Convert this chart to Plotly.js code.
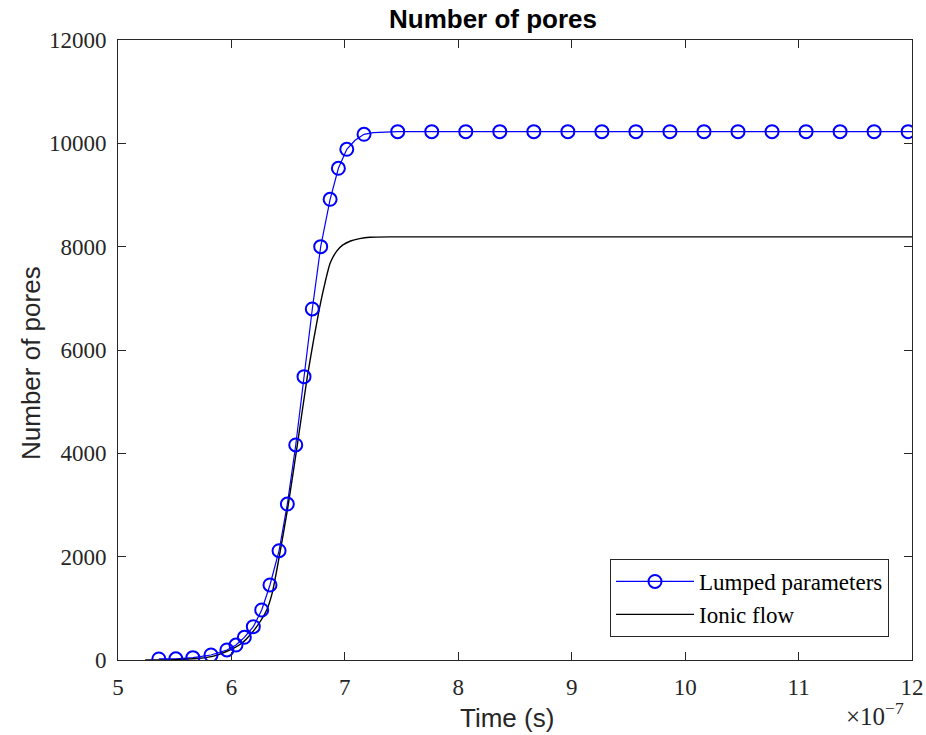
<!DOCTYPE html>
<html>
<head>
<meta charset="utf-8">
<script src="https://cdn.plot.ly/plotly-3.0.1.min.js"></script>
<style>html,body{margin:0;padding:0;background:#fff;}#chart{width:926px;height:735px;}</style>
</head>
<body>
<div id="chart"></div>
<script>
// Time in units of 1e-7 s
const lumpedMarkerTime = [5.36, 5.51, 5.66, 5.82, 5.96, 6.04, 6.114, 6.193, 6.267, 6.34, 6.42, 6.493, 6.567, 6.64, 6.713, 6.787, 6.87, 6.943, 7.017, 7.169, 7.466, 7.766, 8.066, 8.366, 8.666, 8.966, 9.266, 9.566, 9.866, 10.166, 10.466, 10.766, 11.066, 11.366, 11.666, 11.966];
const lumpedMarkerPores = [20, 22, 45, 97, 194, 290, 439, 645, 968, 1452, 2115, 3019, 4162, 5484, 6794, 8000, 8917, 9517, 9885, 10175, 10226, 10226, 10226, 10226, 10226, 10226, 10226, 10226, 10226, 10226, 10226, 10226, 10226, 10226, 10226, 10226];

const lumpedCurveTime = [5.36, 5.51, 5.66, 5.82, 5.96, 6.04, 6.114, 6.193, 6.267, 6.34, 6.42, 6.493, 6.567, 6.64, 6.713, 6.787, 6.87, 6.943, 7.017, 7.09, 7.169, 7.25, 7.35, 7.466, 7.766, 12.0];
const lumpedCurvePores = [20, 22, 45, 97, 194, 290, 439, 645, 968, 1452, 2115, 3019, 4162, 5484, 6794, 8000, 8917, 9517, 9885, 10060, 10175, 10208, 10220, 10226, 10226, 10226];

const ionicTime = [5.24, 5.5, 5.72, 5.85, 5.95, 6.017, 6.1, 6.164, 6.24, 6.311, 6.36, 6.40, 6.458, 6.502, 6.581, 6.669, 6.725, 6.775, 6.825, 6.87, 6.93, 6.98, 7.05, 7.13, 7.22, 7.4, 12.0];
const ionicPores = [0, 8, 33, 80, 160, 226, 340, 484, 700, 968, 1300, 1742, 2452, 3019, 4162, 5484, 6200, 6794, 7300, 7678, 7920, 8030, 8110, 8155, 8181, 8190, 8190];

const xTicks = [5, 6, 7, 8, 9, 10, 11, 12];
const yTicks = [0, 2000, 4000, 6000, 8000, 10000, 12000];

const blue = '#0000ff';
const traces = [
  {x: lumpedCurveTime, y: lumpedCurvePores, mode: 'lines', line: {color: blue, width: 1.2}, showlegend: false, hoverinfo: 'skip'},
  {x: ionicTime, y: ionicPores, mode: 'lines', line: {color: '#000000', width: 1.4, shape: 'spline', smoothing: 0.6}, showlegend: false, hoverinfo: 'skip'},
  {x: lumpedMarkerTime, y: lumpedMarkerPores, mode: 'markers', marker: {symbol: 'circle-open', size: 13, color: blue, line: {width: 2, color: blue}}, showlegend: false},
  {x: [null], y: [null], mode: 'lines+markers', name: 'Lumped parameters', line: {color: blue, width: 1.2}, marker: {symbol: 'circle-open', size: 13, color: blue, line: {width: 2, color: blue}}},
  {x: [null], y: [null], mode: 'lines', name: 'Ionic flow', line: {color: '#000000', width: 1.4}}
];

const axisCommon = {
  showgrid: false, zeroline: false, showline: true, linecolor: '#262626', linewidth: 1,
  mirror: 'ticks', ticks: 'inside', ticklen: 8, tickcolor: '#262626', tickwidth: 1,
  tickfont: {family: 'Liberation Serif, serif', size: 23, color: '#262626'}
};

const layout = {
  width: 926, height: 735,
  margin: {l: 118, r: 14, t: 40, b: 75},
  paper_bgcolor: '#ffffff', plot_bgcolor: '#ffffff',
  title: {text: '<b>Number of pores</b>', font: {family: 'Liberation Sans, Arial, sans-serif', size: 26, color: '#000'}, x: 493/926, xanchor: 'center', y: 1 - 19/735, yanchor: 'middle'},
  xaxis: Object.assign({}, axisCommon, {range: [5, 12], tickvals: xTicks, ticktext: xTicks.map(String), ticklabelstandoff: 6}),
  yaxis: Object.assign({}, axisCommon, {range: [0, 12000], tickvals: yTicks, ticktext: yTicks.map(String), ticklabelstandoff: 6}),
  showlegend: true,
  legend: {
    x: (889 - 118) / 794, xanchor: 'right', y: (660 - 637) / 620, yanchor: 'bottom',
    bgcolor: '#ffffff', bordercolor: '#262626', borderwidth: 1,
    font: {family: 'Liberation Serif, serif', size: 23, color: '#000'},
    itemwidth: 78
  },
  annotations: [
    {text: 'Time (s)', xref: 'paper', yref: 'paper', x: (507 - 118) / 794, y: -(718 - 660) / 620, xanchor: 'center', yanchor: 'middle', showarrow: false, font: {family: 'Liberation Sans, Arial, sans-serif', size: 26, color: '#262626'}},
    {text: 'Number of pores', xref: 'paper', yref: 'paper', x: -(118 - 31) / 794, y: (660 - 363) / 620, xanchor: 'center', yanchor: 'middle', textangle: -90, showarrow: false, font: {family: 'Liberation Sans, Arial, sans-serif', size: 26, color: '#262626'}},
    {text: '×10<sup>−7</sup>', xref: 'paper', yref: 'paper', x: (906 - 118) / 794, y: -(714 - 660) / 620, xanchor: 'right', yanchor: 'middle', showarrow: false, font: {family: 'Liberation Serif, serif', size: 25, color: '#262626'}}
  ]
};

Plotly.newPlot('chart', traces, layout, {displayModeBar: false, staticPlot: true});
</script>
</body>
</html>
